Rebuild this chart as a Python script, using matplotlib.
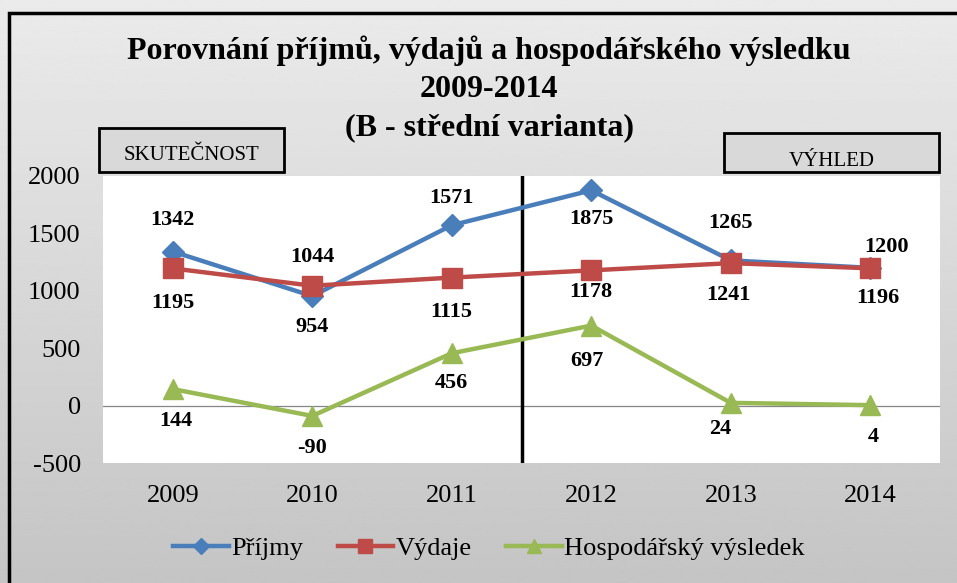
import matplotlib.pyplot as plt
import numpy as np
from matplotlib.patches import Rectangle

# data
years = ['2009', '2010', '2011', '2012', '2013', '2014']
prijmy = [1342, 954, 1571, 1875, 1265, 1200]
vydaje = [1195, 1044, 1115, 1178, 1241, 1196]
vysledek = [144, -90, 456, 697, 24, 4]

# label offsets in pixels (above / below the marker)
off_prijmy = [-32, 31, -27, 29, -37, -21]
off_vydaje = [35, -29, 34, 22, 32, 30]
off_vysledek = [32, 32, 30, 35, 26, 32]
dx_prijmy = [0, 0, 0, 0, 0, 16]
dx_vydaje = [0, 0, 0, 0, -2, 8]
dx_vysledek = [3, 0, 0, -4, -11, 3]

plt.rcParams['font.family'] = ['Liberation Serif', 'DejaVu Serif']
plt.rcParams['axes.unicode_minus'] = False
SERIF = ['Liberation Serif', 'DejaVu Serif']

fig = plt.figure(figsize=(9.57, 5.83), dpi=100)

# gray gradient background
bg = fig.add_axes([0, 0, 1, 1], zorder=-10)
grad = np.linspace(0.92, 0.77, 256).reshape(-1, 1)
bg.imshow(grad, aspect='auto', cmap='gray', vmin=0, vmax=1,
          extent=[0, 1, 0, 1], origin='upper')
bg.set_xlim(0, 1)
bg.set_ylim(0, 1)
bg.axis('off')
bg.add_patch(Rectangle((9 / 957, -0.1), 1.2, 1 - 13 / 583 + 0.1,
                       fill=False, edgecolor='black', linewidth=2.5))

ax = fig.add_axes([103 / 957, 1 - 463 / 583, 837 / 957, 287 / 583])
ax.set_facecolor('white')
x = np.arange(len(years))

series = [
    (prijmy, '#4a7ebb', 'D', 11, 'Příjmy', off_prijmy, dx_prijmy),
    (vydaje, '#be4b48', 's', 14, 'Výdaje', off_vydaje, dx_vydaje),
    (vysledek, '#98b954', '^', 15, 'Hospodářský výsledek', off_vysledek, dx_vysledek),
]
for vals, col, mk, ms, lab, offs, dxs in series:
    ax.plot(x, vals, color=col, linewidth=3.2, marker=mk, markersize=ms,
            label=lab, zorder=3)
    for xi, v, o, d in zip(x, vals, offs, dxs):
        ax.annotate(str(v), (xi, v), xytext=(d, -o), textcoords='offset pixels',
                    ha='center', va='center', fontsize=16, fontweight='bold',
                    color='black', family=SERIF, zorder=4)

ax.axhline(0, color='#868686', linewidth=0.9, zorder=1)
ax.axvline(2.5, ymin=0.0, ymax=1.0, color='black', linewidth=2.5, zorder=2)

ax.set_xlim(-0.5, 5.5)
ax.set_ylim(-500, 2000)
ax.set_yticks(range(-500, 2001, 500))
ax.set_yticklabels([str(v) for v in range(-500, 2001, 500)], family=SERIF, fontsize=19)
ax.set_xticks(x)
ax.set_xticklabels(years, family=SERIF, fontsize=19)
ax.tick_params(axis='both', length=0)
ax.tick_params(axis='y', pad=16)
ax.tick_params(axis='x', pad=16)
for s in ax.spines.values():
    s.set_visible(False)

fig.text(0.511, 1 - 89 / 583,
         'Porovnání příjmů, výdajů a hospodářského výsledku\n2009-2014\n(B - střední varianta)',
         ha='center', va='center', fontsize=23, fontweight='bold', linespacing=1.4,
         family=SERIF)

# SKUTEČNOST / VÝHLED boxes
for (x0, y0, x1, y1, yb, txt) in [(99, 128, 284, 172, 160, 'SKUTEČNOST'),
                                  (724, 133, 939, 172, 166, 'VÝHLED')]:
    bg.add_patch(Rectangle((x0 / 957, 1 - y1 / 583), (x1 - x0) / 957,
                           (y1 - y0) / 583, facecolor='#d9d9d9',
                           edgecolor='black', linewidth=2, zorder=5))
    bg.text((x0 + x1) / 2 / 957, 1 - yb / 583, txt, ha='center',
            va='baseline', fontsize=15, family=SERIF, zorder=6)

ax.legend(loc='center', bbox_to_anchor=(0.511, 1 - 548 / 583), bbox_transform=fig.transFigure,
          ncol=3, frameon=False, prop={'family': SERIF, 'size': 19},
          handlelength=2.1, handletextpad=0.1, columnspacing=1.3, markerscale=0.7)

fig.savefig('out.png', dpi=100)
